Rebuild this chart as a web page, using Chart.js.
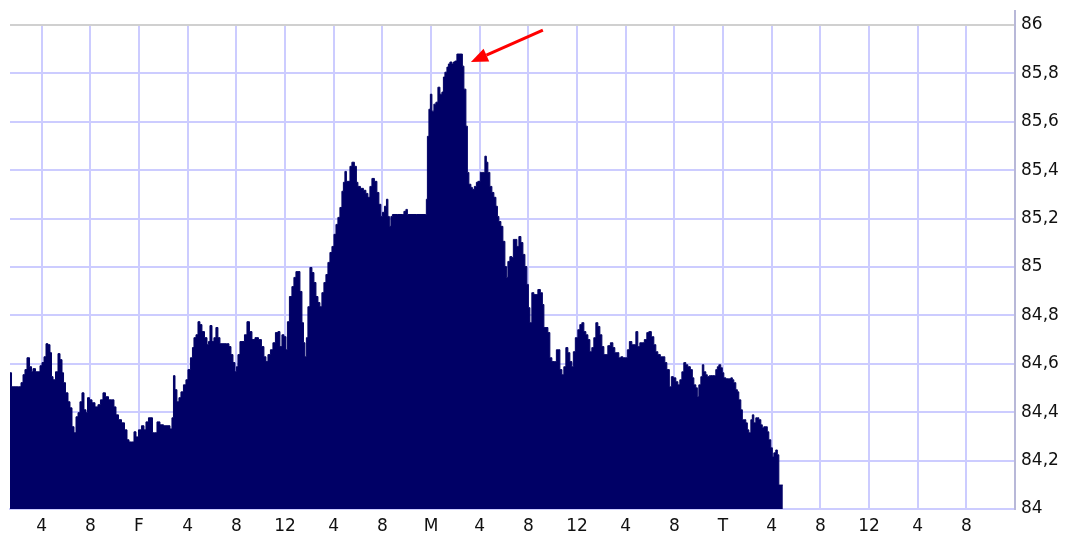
<!DOCTYPE html>
<html>
<head>
<meta charset="utf-8">
<script src="https://cdn.jsdelivr.net/npm/chart.js@4.4.1/dist/chart.umd.min.js"></script>
<style>
  html, body { margin: 0; padding: 0; background: #fff; }
  #wrap { width: 1068px; height: 534px; }
</style>
</head>
<body>
<div id="wrap"><canvas id="priceChart"></canvas></div>
<script>
// hours counted from Friday 00:00 (F), weekend skipped: M = 24, T = 48
const hours = [
  -10.60, -10.35, -10.02, -9.78, -9.61, -9.45, -9.29, -9.12, -8.87, -8.79, -8.63, -8.38, -8.22, -8.05, -7.89, -7.72,
  -7.56, -7.40, -7.23, -7.15, -6.98, -6.74, -6.57, -6.41, -6.24, -6.16, -5.92, -5.75, -5.59, -5.42, -5.26, -5.09,
  -4.93, -4.77, -4.60, -4.44, -4.27, -4.19, -3.94, -3.78, -3.45, -3.29, -3.04, -2.88, -2.63, -2.38, -2.14, -1.97,
  -1.81, -1.56, -1.31, -1.07, -0.90, -0.74, -0.49, -0.33, -0.16, 0.08, 0.33, 0.49, 0.66, 0.90, 1.07, 1.15,
  1.40, 1.56, 1.89, 2.14, 2.47, 2.63, 2.79, 2.88, 3.04, 3.20, 3.37, 3.53, 3.78, 3.94, 4.11, 4.35,
  4.44, 4.60, 4.77, 4.93, 5.09, 5.26, 5.51, 5.67, 5.75, 5.92, 6.08, 6.24, 6.41, 6.57, 6.74, 7.07,
  7.31, 7.48, 7.64, 7.81, 7.97, 8.05, 8.22, 8.38, 8.55, 8.79, 8.96, 9.20, 9.37, 9.70, 9.94, 10.19,
  10.35, 10.52, 10.68, 10.93, 11.09, 11.34, 11.50, 11.67, 11.83, 12.00, 12.16, 12.24, 12.49, 12.65, 12.82, 12.98,
  13.15, 13.31, 13.48, 13.56, 13.72, 13.80, 13.97, 14.13, 14.30, 14.46, 14.63, 14.79, 14.95, 15.12, 15.28, 15.45,
  15.61, 15.78, 15.94, 16.11, 16.27, 16.43, 16.60, 16.76, 16.84, 17.01, 17.09, 17.26, 17.42, 17.58, 17.83, 17.91,
  18.08, 18.32, 18.57, 18.73, 18.90, 19.06, 19.23, 19.47, 19.64, 19.80, 19.97, 20.05, 20.30, 20.38, 20.54, 20.62,
  20.79, 20.87, 21.69, 21.86, 22.02, 22.10, 23.58, 23.66, 23.75, 23.91, 23.99, 24.16, 24.32, 24.49, 24.65, 24.82,
  24.98, 25.06, 25.23, 25.39, 25.47, 25.64, 25.80, 25.88, 26.05, 26.21, 26.54, 26.62, 26.79, 26.95, 27.03, 27.20,
  27.36, 27.44, 27.69, 27.77, 27.94, 28.18, 28.35, 28.51, 28.59, 28.76, 28.92, 29.09, 29.25, 29.42, 29.50, 29.66,
  29.83, 29.99, 30.16, 30.24, 30.40, 30.57, 30.73, 30.81, 30.98, 31.14, 31.31, 31.47, 31.64, 31.80, 31.96, 32.05,
  32.21, 32.37, 32.54, 32.70, 32.87, 33.11, 33.20, 33.36, 33.53, 33.69, 33.85, 34.02, 34.26, 34.35, 34.51, 34.68,
  34.84, 35.00, 35.17, 35.33, 35.50, 35.66, 35.74, 35.99, 36.15, 36.32, 36.48, 36.65, 36.81, 36.98, 37.14, 37.30,
  37.47, 37.63, 37.80, 37.96, 38.13, 38.29, 38.45, 38.62, 38.87, 39.03, 39.19, 39.36, 39.52, 39.69, 39.85, 40.10,
  40.18, 40.43, 40.59, 40.76, 40.92, 41.08, 41.25, 41.41, 41.66, 41.82, 41.99, 42.23, 42.40, 42.56, 42.73, 42.97,
  43.14, 43.30, 43.47, 43.71, 43.80, 44.04, 44.21, 44.37, 44.54, 44.70, 44.86, 45.03, 45.19, 45.44, 45.52, 45.69,
  45.85, 45.93, 46.10, 46.26, 46.34, 46.51, 46.67, 46.75, 47.00, 47.33, 47.49, 47.58, 47.74, 47.90, 47.99, 48.15,
  48.32, 48.56, 48.73, 48.81, 48.97, 49.14, 49.22, 49.38, 49.55, 49.63, 49.79, 49.96, 50.04, 50.21, 50.37, 50.45,
  50.62, 50.78, 50.86, 51.03, 51.19, 51.27, 51.44, 51.60, 51.68, 51.85, 52.01, 52.10, 52.26, 52.42, 52.51, 52.67,
  52.84, 52.92
];

const prices = [
  84.563, 84.505, 84.505, 84.505, 84.522, 84.555, 84.576, 84.625, 84.588, 84.567, 84.580, 84.567, 84.567, 84.592, 84.605, 84.629,
  84.683, 84.679, 84.646, 84.547, 84.534, 84.567, 84.642, 84.617, 84.563, 84.522, 84.480, 84.443, 84.418, 84.340, 84.315, 84.381,
  84.398, 84.443, 84.480, 84.410, 84.398, 84.460, 84.451, 84.439, 84.422, 84.431, 84.451, 84.480, 84.464, 84.451, 84.451, 84.422,
  84.389, 84.369, 84.356, 84.327, 84.286, 84.277, 84.277, 84.319, 84.298, 84.327, 84.344, 84.327, 84.360, 84.377, 84.377, 84.315,
  84.315, 84.360, 84.348, 84.344, 84.344, 84.331, 84.377, 84.551, 84.493, 84.443, 84.460, 84.484, 84.513, 84.534, 84.576, 84.625,
  84.667, 84.708, 84.720, 84.774, 84.762, 84.733, 84.708, 84.679, 84.692, 84.758, 84.692, 84.708, 84.750, 84.708, 84.683, 84.683,
  84.683, 84.671, 84.638, 84.605, 84.567, 84.588, 84.638, 84.692, 84.692, 84.720, 84.774, 84.733, 84.700, 84.708, 84.700, 84.671,
  84.629, 84.609, 84.638, 84.658, 84.687, 84.729, 84.733, 84.671, 84.720, 84.712, 84.658, 84.774, 84.878, 84.919, 84.957, 84.981,
  84.981, 84.899, 84.770, 84.687, 84.629, 84.708, 84.836, 84.998, 84.977, 84.936, 84.878, 84.853, 84.836, 84.894, 84.936, 84.969,
  85.019, 85.060, 85.085, 85.135, 85.176, 85.205, 85.246, 85.313, 85.350, 85.395, 85.354, 85.354, 85.416, 85.433, 85.416, 85.350,
  85.333, 85.325, 85.317, 85.304, 85.288, 85.333, 85.366, 85.354, 85.308, 85.259, 85.209, 85.226, 85.251, 85.280, 85.209, 85.168,
  85.209, 85.217, 85.217, 85.230, 85.238, 85.217, 85.217, 85.280, 85.540, 85.652, 85.714, 85.644, 85.673, 85.681, 85.743, 85.714,
  85.723, 85.785, 85.805, 85.826, 85.839, 85.847, 85.839, 85.847, 85.851, 85.880, 85.880, 85.830, 85.735, 85.582, 85.391, 85.342,
  85.329, 85.321, 85.333, 85.350, 85.354, 85.391, 85.391, 85.458, 85.433, 85.391, 85.333, 85.308, 85.288, 85.251, 85.209, 85.188,
  85.168, 85.106, 85.002, 84.957, 85.023, 85.043, 85.039, 85.114, 85.114, 85.085, 85.126, 85.101, 85.052, 85.002, 84.928, 84.832,
  84.770, 84.894, 84.886, 84.886, 84.907, 84.894, 84.845, 84.750, 84.750, 84.729, 84.625, 84.609, 84.609, 84.658, 84.658, 84.576,
  84.555, 84.588, 84.667, 84.646, 84.609, 84.588, 84.650, 84.708, 84.741, 84.762, 84.770, 84.733, 84.720, 84.700, 84.650, 84.667,
  84.708, 84.770, 84.754, 84.720, 84.671, 84.638, 84.638, 84.675, 84.687, 84.667, 84.646, 84.646, 84.625, 84.629, 84.625, 84.625,
  84.658, 84.692, 84.679, 84.679, 84.733, 84.671, 84.687, 84.687, 84.700, 84.729, 84.733, 84.712, 84.679, 84.650, 84.638, 84.629,
  84.629, 84.605, 84.576, 84.505, 84.547, 84.542, 84.526, 84.513, 84.534, 84.567, 84.605, 84.596, 84.588, 84.576, 84.542, 84.513,
  84.501, 84.464, 84.513, 84.547, 84.596, 84.567, 84.555, 84.547, 84.551, 84.551, 84.576, 84.588, 84.596, 84.584, 84.563, 84.542,
  84.538, 84.538, 84.542, 84.534, 84.522, 84.493, 84.484, 84.451, 84.410, 84.369, 84.369, 84.356, 84.327, 84.315, 84.369, 84.389,
  84.356, 84.377, 84.377, 84.369, 84.348, 84.335, 84.340, 84.340, 84.319, 84.286, 84.253, 84.215, 84.232, 84.244, 84.224, 84.099,
  84.099, 84.099
];

// x axis: a grid line every 4 hours
const tickHours = [-8, -4, 0, 4, 8, 12, 16, 20, 24, 28, 32, 36, 40, 44, 48, 52, 56, 60, 64, 68];
const tickLabels = ["4", "8", "F", "4", "8", "12", "4", "8", "M", "4", "8", "12", "4", "8", "T", "4", "8", "12", "4", "8"];

// peak marked by the red arrow
const peakHour = 26.54;
const peakPrice = 85.88;

const gridBlue = "#ccccff";
const navy = "#000066";

// red arrow + frame bits the axes don't draw
const extrasPlugin = {
    id: "extras",
    afterDatasetsDraw(chart) {
        const { ctx, chartArea, scales } = chart;

        // right axis line runs a little above the plot
        ctx.save();
        ctx.strokeStyle = "#b8b8d8";
        ctx.lineWidth = 2;
        ctx.beginPath();
        ctx.moveTo(chartArea.right, chartArea.top - 15);
        ctx.lineTo(chartArea.right, chartArea.top);
        ctx.stroke();
        ctx.restore();

        const tipX = scales.x.getPixelForValue(peakHour) + 9;
        const tipY = scales.y.getPixelForValue(peakPrice) + 8;
        const tailX = tipX + 72;
        const tailY = tipY - 32;
        const ang = Math.atan2(tailY - tipY, tailX - tipX);
        const headLen = 17;
        const headW = 7;
        const baseX = tipX + Math.cos(ang) * headLen;
        const baseY = tipY + Math.sin(ang) * headLen;

        ctx.save();
        ctx.strokeStyle = "#ff0000";
        ctx.fillStyle = "#ff0000";
        ctx.lineWidth = 3;
        ctx.beginPath();
        ctx.moveTo(tailX, tailY);
        ctx.lineTo(baseX, baseY);
        ctx.stroke();
        ctx.beginPath();
        ctx.moveTo(tipX, tipY);
        ctx.lineTo(baseX - Math.sin(ang) * headW, baseY + Math.cos(ang) * headW);
        ctx.lineTo(baseX + Math.sin(ang) * headW, baseY - Math.cos(ang) * headW);
        ctx.closePath();
        ctx.fill();
        ctx.restore();
    }
};

const ctx = document.getElementById("priceChart");
new Chart(ctx, {
    type: "line",
    data: {
        datasets: [{
            data: hours.map((h, i) => ({ x: h, y: prices[i] })),
            borderColor: navy,
            backgroundColor: navy,
            borderWidth: 1,
            pointRadius: 0,
            stepped: "middle",
            fill: "start"
        }]
    },
    options: {
        responsive: true,
        maintainAspectRatio: false,
        animation: false,
        devicePixelRatio: 1,
        layout: { padding: { left: 10, top: 25, right: 0, bottom: 0 } },
        plugins: {
            legend: { display: false },
            tooltip: { enabled: false }
        },
        scales: {
            x: {
                type: "linear",
                min: -10.6,
                max: 72,
                afterBuildTicks: (scale) => {
                    scale.ticks = tickHours.map((v) => ({ value: v }));
                },
                afterFit: (scale) => { scale.height = 25; },
                grid: { color: gridBlue, lineWidth: 2, drawTicks: false },
                border: { color: gridBlue, width: 2 },
                ticks: {
                    autoSkip: false,
                    maxRotation: 0,
                    padding: 7,
                    color: "#111",
                    font: { family: "DejaVu Sans", size: 17 },
                    callback: (value, index) => tickLabels[index]
                }
            },
            y: {
                position: "right",
                min: 84,
                max: 86,
                afterFit: (scale) => { scale.width = 53; },
                grid: {
                    color: (c) => (c.tick && c.tick.value === 86 ? "#d0d0d0" : gridBlue),
                    lineWidth: 2,
                    drawTicks: false
                },
                border: { color: "#b8b8d8", width: 2 },
                ticks: {
                    stepSize: 0.2,
                    padding: 6,
                    color: "#111",
                    font: { family: "DejaVu Sans", size: 17 },
                    callback: (value) => String(Number(value.toFixed(1))).replace(".", ",")
                }
            }
        }
    },
    plugins: [extrasPlugin]
});
</script>
</body>
</html>
